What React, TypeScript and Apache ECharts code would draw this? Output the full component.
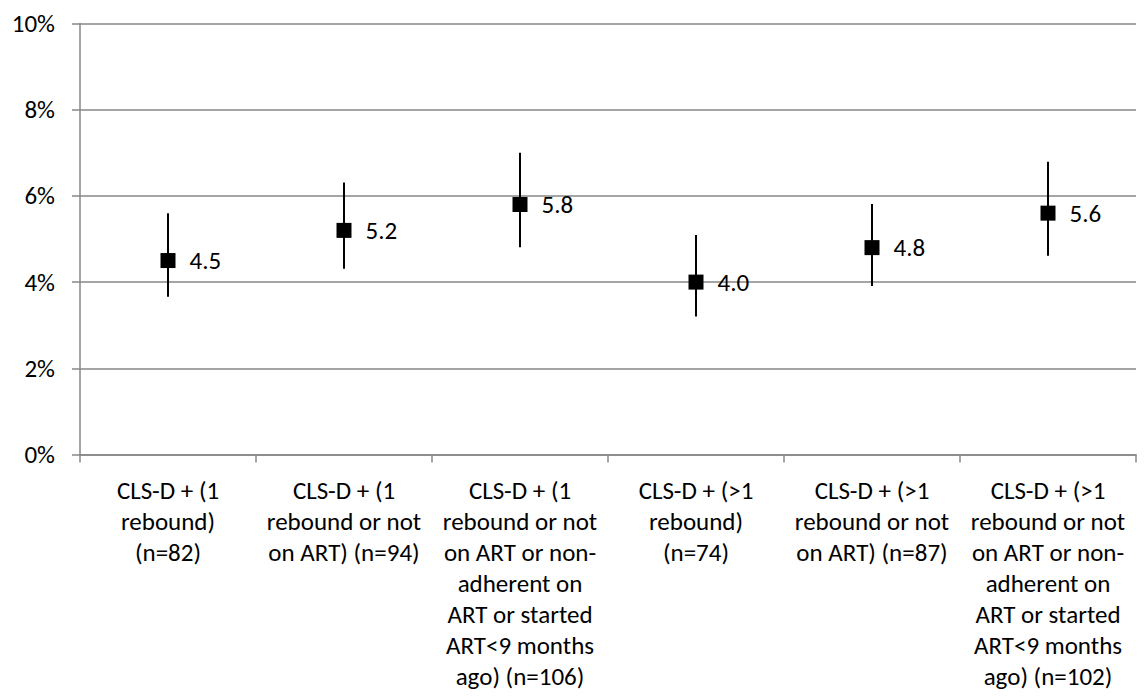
import React, { useEffect, useRef } from "react";
import * as echarts from "echarts";

const categories: string[] = [
  "CLS-D + (1\nrebound)\n(n=82)",
  "CLS-D + (1\nrebound or not\non ART) (n=94)",
  "CLS-D + (1\nrebound or not\non ART or non-\nadherent on\nART or started\nART<9 months\nago) (n=106)",
  "CLS-D + (>1\nrebound)\n(n=74)",
  "CLS-D + (>1\nrebound or not\non ART) (n=87)",
  "CLS-D + (>1\nrebound or not\non ART or non-\nadherent on\nART or started\nART<9 months\nago) (n=102)",
];
const values: number[] = [4.5, 5.2, 5.8, 4.0, 4.8, 5.6];
const lows: number[] = [3.66, 4.31, 4.81, 3.2, 3.91, 4.61];
const highs: number[] = [5.6, 6.31, 7.0, 5.09, 5.81, 6.79];
const yMin = 0;
const yMax = 10;
const yStep = 2;

const FONT = "Calibri, Carlito, Lato, sans-serif";
const GRID_COLOR = "#878787";

export default function App() {
  const ref = useRef<HTMLDivElement>(null);
  useEffect(() => {
    if (!ref.current) return;
    const chart = echarts.init(ref.current, undefined, { renderer: "svg" });
    const errData = categories.map((_, i) => [i, lows[i], highs[i]]);
    chart.setOption({
      animation: false,
      backgroundColor: "#ffffff",
      grid: { left: 80, right: 11, top: 23.5, bottom: 242.5, containLabel: false },
      xAxis: {
        type: "category",
        data: categories,
        boundaryGap: true,
        axisLine: { show: true, lineStyle: { color: GRID_COLOR, width: 1.5 } },
        axisTick: { show: true, length: 8, lineStyle: { color: GRID_COLOR, width: 1.5 } },
        axisLabel: {
          interval: 0,
          margin: 20,
          color: "#000",
          fontFamily: FONT,
          fontSize: 25,
          lineHeight: 31,
          align: "center",
        },
        splitLine: { show: false },
      },
      yAxis: {
        type: "value",
        min: yMin,
        max: yMax,
        interval: yStep,
        axisLine: { show: true, lineStyle: { color: GRID_COLOR, width: 1.5 } },
        axisTick: { show: true, length: 8, lineStyle: { color: GRID_COLOR, width: 1.5 } },
        axisLabel: {
          formatter: "{value}%",
          margin: 25,
          color: "#000",
          fontFamily: FONT,
          fontSize: 25,
        },
        splitLine: { show: true, lineStyle: { color: GRID_COLOR, width: 1.5 } },
      },
      series: [
        {
          type: "custom",
          z: 2,
          data: errData,
          encode: { x: 0, y: [1, 2] },
          renderItem: (params: any, api: any) => {
            const x = api.value(0);
            const lo = api.coord([x, api.value(1)]);
            const hi = api.coord([x, api.value(2)]);
            return {
              type: "line",
              shape: { x1: lo[0], y1: lo[1], x2: hi[0], y2: hi[1] },
              style: { stroke: "#000", lineWidth: 2 },
            };
          },
        },
        {
          type: "scatter",
          z: 3,
          data: values,
          symbol: "rect",
          symbolSize: 15,
          itemStyle: { color: "#000", opacity: 1 },
          label: {
            show: true,
            position: "right",
            distance: 14,
            color: "#000",
            opacity: 1,
            fontFamily: FONT,
            fontSize: 25,
            formatter: (p: any) => Number(p.value).toFixed(1),
          },
        },
      ],
    });
    return () => chart.dispose();
  }, []);
  return (
    <div
      ref={ref}
      style={{ position: "absolute", left: 0, top: 0, width: 1147, height: 697, background: "#fff" }}
    />
  );
}
